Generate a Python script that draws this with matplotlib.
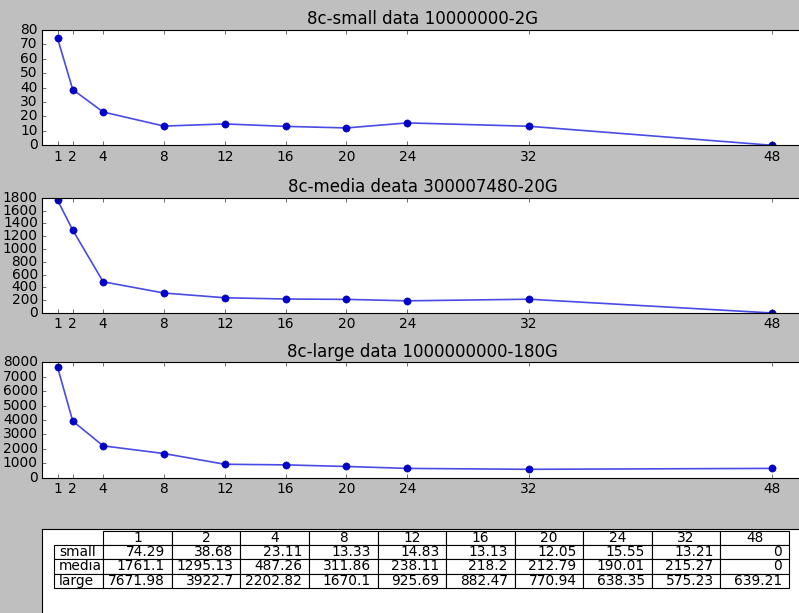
import matplotlib
matplotlib.use("Agg")
import matplotlib.pyplot as plt

plt.style.use('classic')
plt.rcParams['font.size'] = 12.4
plt.rcParams['axes.titlesize'] = 15

# Data
threads = [1, 2, 4, 8, 12, 16, 20, 24, 32, 48]
small = [74.29, 38.68, 23.11, 13.33, 14.83, 13.13, 12.05, 15.55, 13.21, 0]
media = [1761.1, 1295.13, 487.26, 311.86, 238.11, 218.2, 212.79, 190.01, 215.27, 0]
large = [7671.98, 3922.7, 2202.82, 1670.1, 925.69, 882.47, 770.94, 638.35, 575.23, 639.21]
titles = ['8c-small data 10000000-2G', '8c-media deata 300007480-20G',
          '8c-large data 1000000000-180G']
row_names = ['small', 'media', 'large']

W, H = 799, 613
fig = plt.figure(figsize=(W / 80, H / 80), dpi=80)


def px_axes(left, top, width, height):
    return fig.add_axes([left / W, (H - top - height) / H, width / W, height / H])


tops = [30, 197.7, 362.3]
for top, series, title in zip(tops, [small, media, large], titles):
    ax = px_axes(42.3, top, 760.5, 115.3)
    ax.plot(threads, series, '-', color='#4a4ae6', lw=1.5)
    ax.plot(threads, series, 'o', color='#0000cc', mec='#0000aa', ms=6.5)
    ax.set_xlim(0, 50)
    ax.set_xticks(threads)
    ax.set_title(title)

# table panel
tax = px_axes(42.3, 529.3, 760.5, 115.5)
tax.set_xticks([])
tax.set_yticks([])

cell_text = []
for name, series in zip(row_names, [small, media, large]):
    cell_text.append([name] + ['%g' % v for v in series])
col_labels = [''] + [str(t) for t in threads]
col_widths = [49] + [68.6] * len(threads)

tbl = tax.table(cellText=cell_text, colLabels=col_labels, colWidths=col_widths,
                cellLoc='right', colLoc='center',
                bbox=[12 / 760.5, 0.494, 734.7 / 760.5, 0.491])
tbl.auto_set_font_size(False)
tbl.set_fontsize(12.4)
tbl[(0, 0)].set_visible(False)
for r in range(1, 4):
    tbl[(r, 0)].get_text().set_horizontalalignment('left')
    tbl[(r, 0)]._loc = 'left'

fig.savefig('out.png', dpi=80, facecolor=fig.get_facecolor())
